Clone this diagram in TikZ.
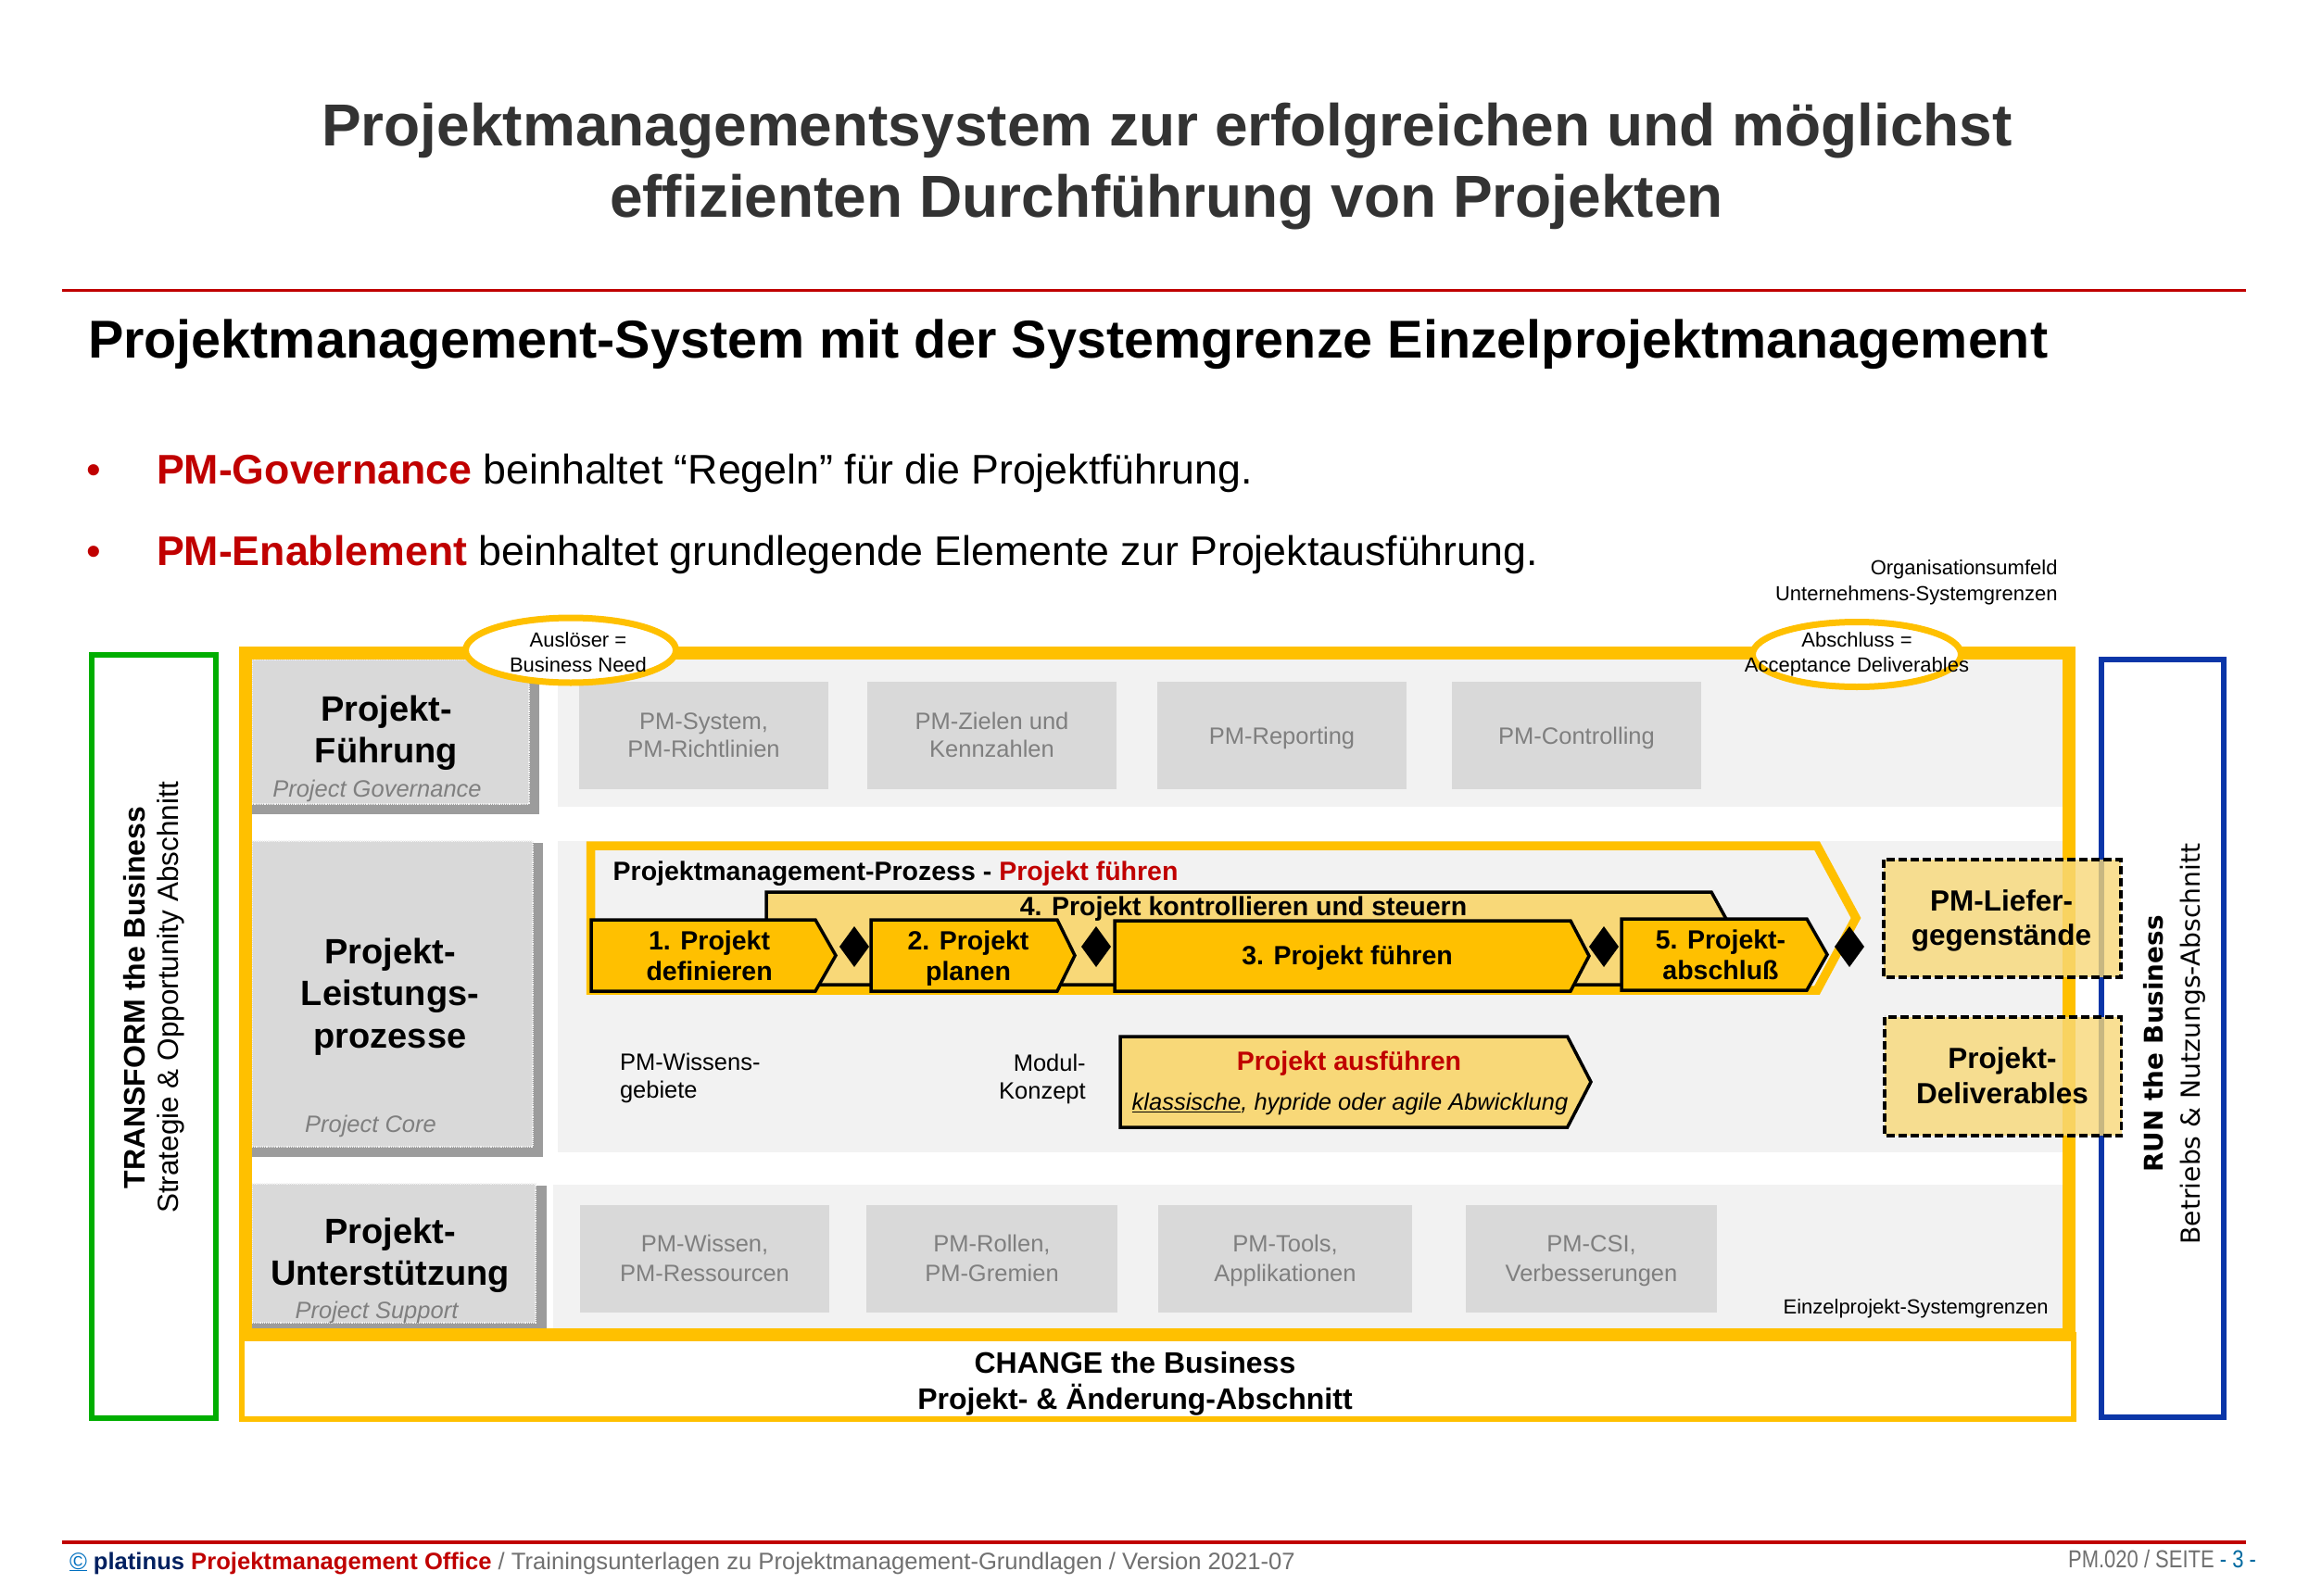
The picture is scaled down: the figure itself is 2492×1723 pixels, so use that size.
\documentclass[tikz,border=0pt]{standalone}
\usepackage{fontspec}
\setmainfont{Liberation Sans}
\newfontfamily\runfont{DejaVu Sans}
\newfontfamily\narrowfont[FakeStretch=0.83]{Liberation Sans}
\newcommand\fsz[1]{\fontsize{#1}{#1}\selectfont}

\definecolor{pmyellow}{HTML}{FFC000}
\definecolor{pmlight}{HTML}{F8D878}
\definecolor{bandgray}{HTML}{F2F2F2}
\definecolor{boxgray}{HTML}{D9D9D9}
\definecolor{shadowgray}{HTML}{9C9C9C}
\definecolor{softgray}{HTML}{7F7F7F}
\definecolor{pmred}{HTML}{C00000}
\definecolor{titlegray}{HTML}{333333}
\definecolor{transgreen}{HTML}{00AE00}
\definecolor{runblue}{HTML}{0B36A8}
\definecolor{navy}{HTML}{002060}
\definecolor{copyblue}{HTML}{0070C0}
\definecolor{pageblue}{HTML}{006AA0}
\definecolor{footgray}{HTML}{707070}

\tikzset{
  txt/.style={inner sep=0pt, outer sep=0pt, anchor=base},
  txtw/.style={txt, anchor=base west},
  txte/.style={txt, anchor=base east},
  lblbox/.style={fill=boxgray, draw=white!90!gray, densely dotted, line width=1.2pt},
  shadowbox/.style={fill=shadowgray, draw=none},
  band/.style={fill=bandgray, draw=none},
  itembox/.style={fill=boxgray, draw=none},
  itemtext/.style={txt, font=\fsz{25.5}, text=softgray},
  headtext/.style={txt, font=\bfseries\fsz{38}},
  subhead/.style={txt, font=\itshape\fsz{25.5}, text=softgray},
  steptext/.style={txt, font=\bfseries\fsz{28.5}},
  stepshape/.style={fill=pmyellow, draw=black, line width=3.5pt, line join=miter},
  ctrlshape/.style={fill=pmlight, draw=black, line width=3.5pt, line join=miter},
  milestone/.style={fill=black, draw=none},
  trigger/.style={fill=white, draw=pmyellow, line width=7pt},
  smalltext/.style={txt, font=\fsz{22}},
  dashbox/.style={fill=pmlight, fill opacity=0.8, draw=black, line width=3.5pt,
    dash pattern=on 9pt off 4pt},
  deltext/.style={txt, font=\bfseries\fsz{31.5}},
}

\begin{document}
\begin{tikzpicture}[x=1pt, y=-1pt]
\useasboundingbox (0,0) rectangle (2492,1723);
\fill[white] (0,0) rectangle (2492,1723);

% heading
\node[txt, font=\bfseries\fsz{64}, text=titlegray] (title1) at (1259.5,158)
  {Projektmanagementsystem zur erfolgreichen und möglichst};
\node[txt, font=\bfseries\fsz{64}, text=titlegray] (title2) at (1259,235)
  {effizienten Durchführung von Projekten};
\draw[pmred, line width=3pt] (67,313) -- (2424,313);
\node[txtw, font=\bfseries\fsz{57.5}] (subtitle) at (95,386)
  {Projektmanagement-System mit der Systemgrenze Einzelprojektmanagement};

% bullet points
\node[txt, font=\fsz{44.7}, text=pmred] (dot1) at (101,522) {•};
\node[txtw, font=\fsz{44.7}] (bullet1) at (169,522)
  {\textcolor{pmred}{\bfseries PM-Governance} beinhaltet “Regeln” für die Projektführung.};
\node[txt, font=\fsz{44.7}, text=pmred] (dot2) at (101,610) {•};
\node[txtw, font=\fsz{44.7}] (bullet2) at (169,610)
  {\textcolor{pmred}{\bfseries PM-Enablement} beinhaltet grundlegende Elemente zur Projektausführung.};

% environment labels
\node[txte, font=\fsz{22}] (org1) at (2220.5,620.7) {Organisationsumfeld};
\node[txte, font=\fsz{22}] (org2) at (2220.5,648) {Unternehmens-Systemgrenzen};

% side frames
\draw[transgreen, line width=6pt] (99,707) rectangle (233,1531);
\draw[runblue, line width=6pt] (2268,712) rectangle (2400,1529.5);

% row bands and label boxes
\fill[band] (602,712) rectangle (2226,871);
\fill[band] (602,908) rectangle (2226,1244);
\fill[band] (597,1279) rectangle (2226,1434);

\fill[shadowbox] (272,712) rectangle (582,879);
\draw[lblbox] (272,712) rectangle (571,868);
\fill[shadowbox] (272,910) rectangle (586,1249);
\draw[lblbox] (272,908) rectangle (575,1238);
\fill[shadowbox] (272,1280) rectangle (590,1434);
\draw[lblbox] (272,1278) rectangle (578,1428);

% governance items
\fill[itembox] (625,736) rectangle (894,852);
\fill[itembox] (936,736) rectangle (1205,852);
\fill[itembox] (1249,736) rectangle (1518,852);
\fill[itembox] (1567,736) rectangle (1836,852);

% support items
\fill[itembox] (626,1301) rectangle (895,1417);
\fill[itembox] (935,1301) rectangle (1206,1417);
\fill[itembox] (1250,1301) rectangle (1524,1417);
\fill[itembox] (1582,1301) rectangle (1853,1417);

% change section and system boundary
\draw[pmyellow, line width=6pt] (261,1441) rectangle (2238,1532);
\draw[pmyellow, line width=14pt] (265,705) rectangle (2232.5,1440.5);

% trigger and closure ellipses
\draw[trigger] (616,702) ellipse [x radius=113.5pt, y radius=35pt];
\draw[trigger] (2004,706.5) ellipse [x radius=112.5pt, y radius=35pt];
\node[smalltext] (trig1) at (624,698.3) {Auslöser =};
\node[smalltext] (trig2) at (624,725) {Business Need};
\node[smalltext] (close1) at (2004,698) {Abschluss =};
\node[smalltext] (close2) at (2004,725.7) {Acceptance Deliverables};

% project management process
\draw[pmyellow, fill=bandgray, line width=9.5pt, line join=miter]
  (637.5,913) -- (1961,913) -- (2003,991) -- (1961,1069) -- (637.5,1069) -- cycle;
\node[txtw, font=\bfseries\fsz{28.5}] (pmtitle) at (661.7,950)
  {Projektmanagement-Prozess - \textcolor{pmred}{Projekt führen}};

\draw[ctrlshape] (827,1063) -- (827,963) -- (1847,963) -- (1902,1063) -- cycle;
\node[steptext] (ctrl) at (1342,988) {4. Projekt kontrollieren und steuern};

\draw[stepshape] (638,993) -- (880,993) -- (902,1031.5) -- (880,1070) -- (638,1070) -- cycle;
\draw[stepshape] (940,993) -- (1141,993) -- (1160,1031.5) -- (1141,1070) -- (940,1070) -- cycle;
\draw[stepshape] (1203,994) -- (1695,994) -- (1715,1032) -- (1695,1070) -- (1203,1070) -- cycle;
\draw[stepshape] (1750,992) -- (1950,992) -- (1972,1030.5) -- (1950,1069) -- (1750,1069) -- cycle;

\foreach \mx in {922,1183,1731,1996}
  \fill[milestone] (\mx,1000) -- (\mx+16,1022) -- (\mx,1044) -- (\mx-16,1022) -- cycle;

\node[steptext] (s1a) at (765.6,1025) {1. Projekt};
\node[steptext] (s1b) at (765.6,1058) {definieren};
\node[steptext] (s2a) at (1045,1025) {2. Projekt};
\node[steptext] (s2b) at (1045,1058) {planen};
\node[steptext] (s3) at (1454,1041.7) {3. Projekt führen};
\node[steptext] (s5a) at (1857,1024) {5. Projekt-};
\node[steptext] (s5b) at (1857,1057) {abschluß};

% execution
\draw[ctrlshape] (1209,1119) -- (1691.6,1119) -- (1717,1168) -- (1691.6,1217) -- (1209,1217) -- cycle;
\node[txt, font=\bfseries\fsz{28.5}, text=pmred] (exec) at (1456,1155) {Projekt ausführen};
\node[txt, font=\itshape\fsz{25.5}] (execmode) at (1457,1198.3)
  {\underline{klassische}, hypride oder agile Abwicklung};

\node[txtw, font=\fsz{25.5}] (know1) at (669,1155) {PM-Wissens-};
\node[txtw, font=\fsz{25.5}] (know2) at (669,1185) {gebiete};
\node[txte, font=\fsz{25.5}] (mod1) at (1171.7,1156.7) {Modul-};
\node[txte, font=\fsz{25.5}] (mod2) at (1171.7,1186.7) {Konzept};

% deliverables
\draw[dashbox] (2033,928) rectangle (2289,1055);
\draw[dashbox] (2034,1098) rectangle (2289.5,1226);
\node[deltext] (lief1) at (2160,983) {PM-Liefer-};
\node[deltext] (lief2) at (2160,1020) {gegenstände};
\node[deltext] (del1) at (2161,1153) {Projekt-};
\node[deltext] (del2) at (2161,1191.7) {Deliverables};

% row labels
\node[headtext] (gov1) at (417,778) {Projekt-};
\node[headtext] (gov2) at (417,823) {Führung};
\node[subhead] (gov3) at (407,860) {Project Governance};
\node[headtext] (core1) at (421,1040) {Projekt-};
\node[headtext] (core2) at (421,1085) {Leistungs-};
\node[headtext] (core3) at (421,1131.7) {prozesse};
\node[subhead] (core4) at (400,1222.7) {Project Core};
\node[headtext] (sup1) at (421,1342.7) {Projekt-};
\node[headtext] (sup2) at (421,1387.7) {Unterstützung};
\node[subhead] (sup3) at (406.5,1423) {Project Support};

% item texts
\node[itemtext] (g1a) at (759.5,787) {PM-System,};
\node[itemtext] (g1b) at (759.5,817) {PM-Richtlinien};
\node[itemtext] (g2a) at (1070.5,787) {PM-Zielen und};
\node[itemtext] (g2b) at (1070.5,817) {Kennzahlen};
\node[itemtext] (g3) at (1383.5,803) {PM-Reporting};
\node[itemtext] (g4) at (1701.5,803) {PM-Controlling};

\node[itemtext] (u1a) at (760.5,1351.7) {PM-Wissen,};
\node[itemtext] (u1b) at (760.5,1383) {PM-Ressourcen};
\node[itemtext] (u2a) at (1070.5,1351.7) {PM-Rollen,};
\node[itemtext] (u2b) at (1070.5,1383) {PM-Gremien};
\node[itemtext] (u3a) at (1387,1351.7) {PM-Tools,};
\node[itemtext] (u3b) at (1387,1383) {Applikationen};
\node[itemtext] (u4a) at (1717.5,1351.7) {PM-CSI,};
\node[itemtext] (u4b) at (1717.5,1383) {Verbesserungen};

\node[txte, font=\fsz{22}] (single) at (2210.7,1418) {Einzelprojekt-Systemgrenzen};

% section captions
\node[txt, font=\bfseries\fsz{32}] (chg1) at (1225,1482) {CHANGE the Business};
\node[txt, font=\bfseries\fsz{32}] (chg2) at (1225,1521) {Projekt- \& Änderung-Abschnitt};

\node[txt, rotate=90, font=\bfseries\fsz{32}] (trf1) at (156.7,1077) {TRANSFORM the Business};
\node[txt, rotate=90, font=\fsz{31.5}] (trf2) at (192.3,1077) {Strategie \& Opportunity Abschnitt};

\node[txt, rotate=90, font=\runfont\bfseries\fsz{27.8}] (run1) at (2334,1127) {RUN the Business};
\node[txt, rotate=90, font=\runfont\fsz{28.2}] (run2) at (2374,1127) {Betriebs \& Nutzungs-Abschnitt};

% footer
\draw[pmred, line width=4pt] (67,1665) -- (2424,1665);
\node[txtw, font=\fsz{25.6}] (foot) at (75,1694)
  {\textcolor{copyblue}{\underline{©}} \textcolor{navy}{\bfseries platinus} \textcolor{pmred}{\bfseries Projektmanagement Office} \textcolor{footgray}{/ Trainingsunterlagen zu Projektmanagement-Grundlagen / Version 2021-07}};
\node[txte, font=\narrowfont\fsz{26.5}] (page) at (2435,1692)
  {\textcolor{footgray}{PM.020 / SEITE} \textcolor{pageblue}{- 3 -}};
\end{tikzpicture}
\end{document}
